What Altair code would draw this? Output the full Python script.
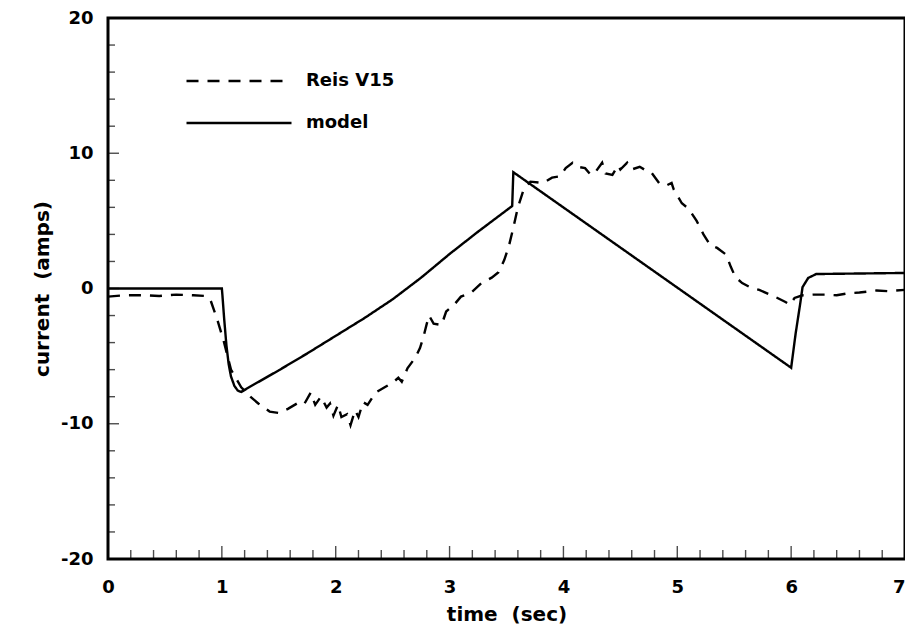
import altair as alt
import pandas as pd

# --- data ---
series_names = ["Reis V15", "model"]

reis_t = [0.0, 0.15, 0.3, 0.45, 0.6, 0.75, 0.85, 0.9, 0.96, 1.02, 1.08, 1.17, 1.25, 1.32,
          1.42, 1.5, 1.58, 1.66, 1.72, 1.78, 1.82, 1.87, 1.92, 1.95, 1.98, 2.02, 2.05,
          2.1, 2.13, 2.17, 2.2, 2.24, 2.28, 2.35, 2.43, 2.51, 2.55, 2.58, 2.63, 2.7,
          2.74, 2.77, 2.8, 2.82, 2.86, 2.93, 2.97, 3.04, 3.1, 3.19, 3.28, 3.37, 3.43,
          3.48, 3.52, 3.56, 3.6, 3.65, 3.71, 3.82, 3.9, 3.97, 4.02, 4.08, 4.12, 4.19,
          4.24, 4.28, 4.34, 4.37, 4.43, 4.48, 4.5, 4.56, 4.6, 4.67, 4.71, 4.77, 4.84,
          4.9, 4.95, 4.97, 5.04, 5.1, 5.17, 5.23, 5.29, 5.35, 5.43, 5.47, 5.51, 5.57,
          5.65, 5.72, 5.8, 5.88, 5.95, 5.99, 6.03, 6.1, 6.2, 6.3, 6.4, 6.5, 6.6, 6.75,
          6.85, 7.0]
reis_v = [-0.6, -0.5, -0.5, -0.55, -0.45, -0.5, -0.55, -0.85, -2.3, -4.0, -6.0, -7.3, -8.0, -8.5,
          -9.1, -9.2, -8.9, -8.5, -8.6, -7.7, -8.6, -8.0, -8.8, -8.5, -9.4, -8.6, -9.5,
          -9.3, -10.1, -9.0, -9.5, -8.4, -8.6, -7.7, -7.3, -6.9, -6.6, -6.9, -5.9, -5.1,
          -4.4, -3.6, -2.6, -2.0, -2.6, -2.7, -1.7, -1.2, -0.6, -0.3, 0.4, 0.8, 1.2,
          2.1, 3.1, 4.5, 6.0, 7.3, 7.9, 7.8, 8.2, 8.3, 8.9, 9.3, 9.0, 8.9,
          8.4, 8.6, 9.3, 8.5, 8.4, 9.1, 8.8, 9.3, 8.8, 9.0, 8.8, 8.6, 7.8,
          7.6, 7.8, 7.3, 6.3, 5.9, 5.0, 4.0, 3.2, 3.0, 2.5, 1.6, 0.85, 0.4,
          0.05, -0.1, -0.4, -0.7, -1.0, -1.2, -0.7, -0.5, -0.45, -0.45, -0.5, -0.35, -0.3, -0.15,
          -0.2, -0.1]

model_t = [0.0, 1.0, 1.005, 1.02, 1.04, 1.06, 1.08, 1.11, 1.14, 1.17, 1.25, 1.5, 1.75, 2.0,
           2.25, 2.5, 2.75, 3.0, 3.25, 3.55, 3.56, 6.0, 6.04, 6.08, 6.1, 6.15, 6.22, 7.0]
model_v = [0.0, 0.0, -0.5, -2.2, -4.2, -5.6, -6.5, -7.2, -7.55, -7.65, -7.25, -6.05, -4.8, -3.5,
           -2.2, -0.8, 0.8, 2.55, 4.2, 6.1, 8.6, -5.86, -3.3, -1.1, 0.1, 0.78, 1.07, 1.15]

x_labels = [0, 1, 2, 3, 4, 5, 6, 7]
y_labels = [-20, -10, 0, 10, 20]
x_major_ticks = [1, 2, 3, 4, 5, 6]
x_minor_ticks = [0.2, 0.4, 0.6, 0.8, 1.2, 1.4, 1.6, 1.8, 2.2, 2.4, 2.6, 2.8, 3.2, 3.4, 3.6,
                 3.8, 4.2, 4.4, 4.6, 4.8, 5.2, 5.4, 5.6, 5.8, 6.2, 6.4, 6.6, 6.8]
y_major_ticks = [-10, 0, 10]
y_minor_ticks = [-18, -16, -14, -12, -8, -6, -4, -2, 2, 4, 6, 8, 12, 14, 16, 18]

# --- tables ---
reis_df = pd.DataFrame({"t": reis_t, "v": reis_v, "series": series_names[0],
                        "i": list(range(len(reis_t)))})
model_df = pd.DataFrame({"t": model_t, "v": model_v, "series": series_names[1],
                         "i": list(range(len(model_t)))})

xs = alt.Scale(domain=[0, 7], nice=False, zero=False)
ys = alt.Scale(domain=[-20, 20], nice=False, zero=False)
x_axis = alt.Axis(values=x_labels, title="time\u00a0\u00a0(sec)", labelFlush=False,
                  labelOverlap=False, labelPadding=19, titlePadding=8,
                  labelExpr="toString(datum.value)",
                  labelAlign={"condition": {"test": "datum.value == 7", "value": "right"},
                              "value": "center"})
y_axis = alt.Axis(values=y_labels, title="current\u00a0\u00a0(amps)", labelFlush=False,
                  labelOverlap=False, labelPadding=15, titlePadding=8,
                  labelExpr="toString(datum.value)")


def series_line(d, name, dash, legend_y):
    return alt.Chart(d).mark_line(strokeWidth=2.4, color="black").encode(
        x=alt.X("t:Q", scale=xs, axis=x_axis),
        y=alt.Y("v:Q", scale=ys, axis=y_axis),
        strokeDash=alt.StrokeDash(
            "series:N",
            scale=alt.Scale(domain=[name], range=[dash]),
            legend=alt.Legend(
                title=None, orient="none", legendX=77, legendY=legend_y,
                symbolType="stroke", symbolSize=105 * 105, symbolStrokeWidth=2.4,
                symbolStrokeColor="black", labelOffset=13, labelFontSize=18,
                labelFont="DejaVu Sans", labelFontWeight="bold", labelColor="black",
                padding=0,
            ),
        ),
        order="i:Q",
    )


def tick_layer(values, channel, size, offset):
    if channel == "x":
        d = pd.DataFrame({"t": values})
        return alt.Chart(d).mark_tick(orient="vertical", size=size, thickness=1.4,
                                      color="black", yOffset=-offset).encode(
            x=alt.X("t:Q", scale=xs, axis=x_axis),
            y=alt.YDatum(-20, scale=ys, axis=y_axis),
        )
    d = pd.DataFrame({"v": values})
    return alt.Chart(d).mark_tick(orient="horizontal", size=size, thickness=1.4,
                                  color="black", xOffset=offset).encode(
        x=alt.XDatum(0, scale=xs, axis=x_axis),
        y=alt.Y("v:Q", scale=ys, axis=y_axis),
    )


chart = alt.layer(
    series_line(reis_df, series_names[0], [12, 9], 9),
    series_line(model_df, series_names[1], [1, 0], 51),
    tick_layer(x_major_ticks, "x", 13, 6.5),
    tick_layer(x_minor_ticks, "x", 9, 4.5),
    tick_layer(y_major_ticks, "y", 11, 5.5),
    tick_layer(y_minor_ticks, "y", 7, 3.5),
).resolve_scale(
    strokeDash="independent"
).resolve_legend(
    strokeDash="independent"
).properties(
    width=797, height=541, autosize="none",
    padding={"left": 100, "top": 10, "right": 0, "bottom": 70},
).configure_view(
    stroke="black", strokeWidth=3,
).configure_axis(
    domain=False, ticks=False, tickSize=0, grid=False,
    labelFont="DejaVu Sans", labelFontWeight="bold", labelFontSize=18, labelColor="black",
    titleFont="DejaVu Sans", titleFontWeight="bold", titleFontSize=20, titleColor="black",
)

chart.save("out.html", embed_options={"renderer": "svg", "actions": False})
